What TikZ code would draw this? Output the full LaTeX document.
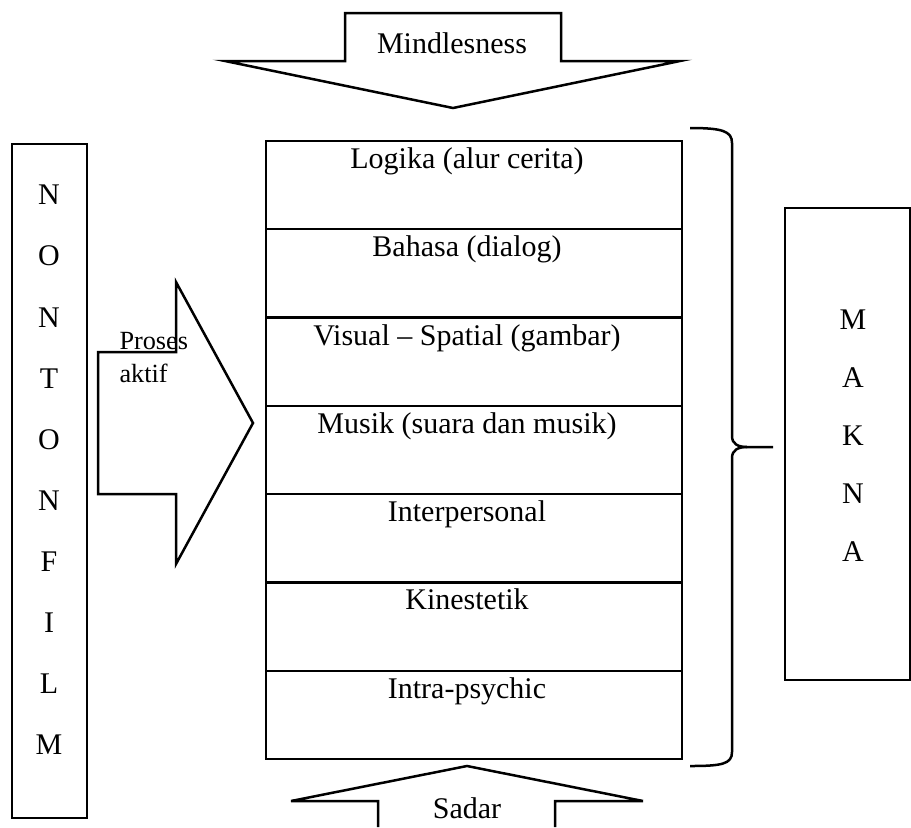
\documentclass[tikz,border=0pt]{standalone}
\usepackage{fontspec}
\setmainfont{Liberation Serif}
\usepackage{tikz}

\tikzset{
  blockline/.style={draw=black, line width=1pt, line join=miter},
  boxline/.style={draw=black, line width=0.9pt},
  lettertext/.style={inner sep=0pt, font=\fontsize{12}{14}\selectfont},
  rowtext/.style={anchor=base, inner sep=0pt, font=\fontsize{12}{14}\selectfont}
}

\begin{document}
\begin{tikzpicture}[x=0.4pt, y=-0.4pt]
  \useasboundingbox (0,0) rectangle (911,827);

  % Top block arrow
  \draw[blockline] (345,61) -- (345,13) -- (561,13) -- (561,61) -- (680,61)
    -- (453,108) -- (225,61) -- cycle;
  \node[rowtext] (mindless) at (452,53) {Mindlesness};

  % Left column
  \draw[boxline] (12,144) rectangle (87,818);
  \foreach \ch [count=\i from 0] in {N,O,N,T,O,N,F,I,L,M} {
    \node[lettertext] (nf\i) at (49,{195+\i*61.1}) {\ch};
  }

  % Side block arrow
  \draw[blockline] (98,352) -- (176,352) -- (176,282) -- (253,423)
    -- (176,564) -- (176,494) -- (98,494) -- cycle;
  \node[anchor=base west, inner sep=0pt, align=left,
        font=\fontsize{10.5}{13.2}\selectfont] (proses) at (119,382) {Proses\\aktif};

  % Central stack of rows
  \draw[boxline] (266,141) rectangle (682,759);
  \foreach \txt [count=\i from 0] in {Logika (alur cerita), Bahasa (dialog),
      Visual -- Spatial (gambar), Musik (suara dan musik), Interpersonal,
      Kinestetik, Intra-psychic} {
    \ifnum\i>0
      \draw[boxline] (266,{141+\i*88.29}) -- (682,{141+\i*88.29});
    \fi
    \node[rowtext] (row\i) at (467,{168.5+\i*88.29}) {\txt};
  }

  % Brace
  \draw[line width=1pt] (690,128) .. controls (722,128) and (732,131) .. (732,143)
    -- (732,436) .. controls (732,444) and (738,447) .. (747,447) -- (773,447);
  \draw[line width=1pt] (747,447) .. controls (738,447) and (732,450) .. (732,458)
    -- (732,752) .. controls (732,764) and (722,766) .. (690,766);

  % Right box
  \draw[boxline] (785,208) rectangle (910,680);
  \foreach \ch [count=\i from 0] in {M,A,K,N,A} {
    \node[lettertext] (mk\i) at (853,{320+\i*58}) {\ch};
  }

  % Bottom block arrow
  \draw[blockline] (378,827) -- (378,801) -- (291,801) -- (467,766)
    -- (643,801) -- (555,801) -- (555,827);
  \node[rowtext] (sadar) at (467,818) {Sadar};
\end{tikzpicture}
\end{document}
